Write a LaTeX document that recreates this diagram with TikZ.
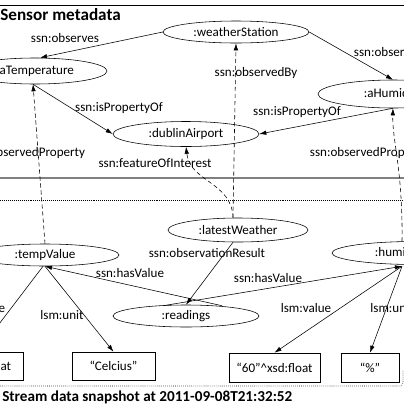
\documentclass[tikz,border=0pt]{standalone}
\usepackage{fontspec}
\setmainfont{Carlito}
\usetikzlibrary{positioning,calc,arrows.meta,shapes.geometric}
\tikzstyle{tips}=[%
	 btip/.tip = {Latex[length=5pt, width=3.2pt]},
	 -btip]

\begin{document}
\begin{tikzpicture}[tips, x=0.025cm, y=-0.025cm, font=\fontsize{9.3}{11}\selectfont]
			\def\px{0.025cm}
			\tikzstyle{res}=[draw, ellipse, inner sep=0pt, -]
			\tikzstyle{lit}=[draw, rectangle, inner sep=0pt, -]
			\tikzstyle{lab}=[inner sep=0pt]
			\tikzstyle{link}=[dashed, dash pattern=on 3pt off 2pt]
			\useasboundingbox (0,0) rectangle (404,404);
			\clip (0,0) rectangle (404,404);
			% frames
			\draw[-] (0,5) -- (404,5);
			\draw[-, gray, line width=1.4pt] (0,178) -- (404,178);
			\draw[-, densely dotted] (0,200.5) -- (404,200.5);
			\draw[-, densely dotted, rounded corners=3*\px] (0,386) -- (403,386) -- (403,370);
			\node[lab, anchor=west, font=\fontsize{12.2}{14}\selectfont\bfseries] (meta) at (0,15) {Sensor metadata};
			\node[lab, anchor=west, font=\fontsize{10.8}{13}\selectfont\bfseries] (snap) at (2,397) {Stream data snapshot at 2011-09-08T21:32:52};
			% sensor metadata
			\node[res, minimum width=146*\px, minimum height=22*\px] (station) at (236,32) {:weatherStation};
			\node[res, minimum width=144*\px, minimum height=26*\px] (temp) at (35,71) {:aTemperature};
			\node[res, minimum width=146*\px, minimum height=25*\px] (airport) at (186,134) {:dublinAirport};
			\node[res, minimum width=150*\px, minimum height=28*\px] (humid) at (393,94) {:aHumidity};
			% stream data
			\node[res, minimum width=140*\px, minimum height=24*\px] (latest) at (238,230) {:latestWeather};
			\node[res, minimum width=148*\px, minimum height=22*\px] (tempval) at (45,255) {:tempValue};
			\node[res, minimum width=146*\px, minimum height=22*\px] (readings) at (186,316) {:readings};
			\node[res, minimum width=166*\px, minimum height=23*\px] (humval) at (415,253) {:humidityValue};
			\node[lit, minimum width=100*\px, minimum height=28*\px] (tempnum) at (-27,366) {“15”\textasciicircum xsd:float};
			\node[lit, minimum width=83*\px, minimum height=28*\px] (celcius) at (113.5,366) {“Celcius”};
			\node[lit, minimum width=91*\px, minimum height=29*\px] (humnum) at (274.5,367.5) {“60”\textasciicircum xsd:float};
			\node[lit, minimum width=58*\px, minimum height=29*\px] (percent) at (370,367.5) {“\%”};
			\coordinate (hv) at ($(humval.south)+(-13,1.5)$);
			% arrows
			\draw (station.west) -- ($(temp.north)+(5,0)$);
			\draw (station.east) -- (humid.north);
			\draw ($(temp.south)+(-2,0)$) -- (airport.west);
			\draw (humid.south) -- (airport.east);
			\draw[link] (tempval.north) -- ($(temp.south)+(-2,0)$);
			\draw[link] ($(latest.north)+(-5,0)$) -- (station.south);
			\draw[link] ($(latest.north)+(-5,0)$) .. controls (232,182) and (190,182) .. (airport.south);
			\draw[link] ($(humval.north)+(-13,0)$) .. controls (403,170) and (392,140) .. (humid.south);
			\draw ($(latest.south)+(-5,0)$) -- (readings.north);
			\draw ($(readings.north)+(36,1)$) -- (tempval.south);
			\draw ($(readings.north)+(-23,1)$) -- (hv);
			\draw ($(tempval.south)+(-2,0)$) -- ($(tempnum.north)+(5,0)$);
			\draw (tempval.south) -- (celcius.north);
			\draw (hv) -- (humnum.north);
			\draw (hv) -- (percent.north);
			% labels
			\node[lab] (obs1) at (65,38) {ssn:observes};
			\node[lab] (obs2) at (388,52) {ssn:observes};
			\node[lab] (prop1) at (119,108) {ssn:isPropertyOf};
			\node[lab] (prop2) at (297,112) {ssn:isPropertyOf};
			\node[lab] (oprop1) at (27,153) {ssn:observedProperty};
			\node[lab] (oprop2) at (368,153) {ssn:observedProperty};
			\node[lab] (oby) at (256,73) {ssn:observedBy};
			\node[lab] (foi) at (155,163) {ssn:featureOfInterest};
			\node[lab] (ores) at (207,253) {ssn:observationResult};
			\node[lab] (hval1) at (130,273) {ssn:hasValue};
			\node[lab] (hval2) at (268,278) {ssn:hasValue};
			\node[lab] (val1) at (-20,308) {lsm:value};
			\node[lab] (unit1) at (62,315) {lsm:unit};
			\node[lab] (val2) at (306,308) {lsm:value};
			\node[lab] (unit2) at (392,308) {lsm:unit};
		\end{tikzpicture}
\end{document}
